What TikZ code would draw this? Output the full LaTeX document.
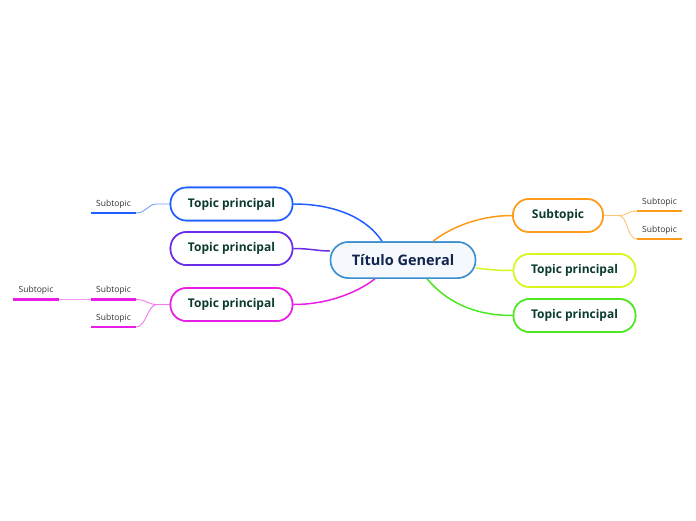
\documentclass[tikz,border=0pt]{standalone}
\usepackage{fontspec}
\setmainfont{Open Sans}
\definecolor{cblue}{HTML}{1F5EFF}
\definecolor{cpurple}{HTML}{6B2BEB}
\definecolor{cmag}{HTML}{E91EE6}
\definecolor{corange}{HTML}{FF9A1A}
\definecolor{cyellow}{HTML}{D8F51E}
\definecolor{cgreen}{HTML}{4AE81E}
\definecolor{ccenter}{HTML}{3A8FD0}
\definecolor{ccfill}{HTML}{F5F9FD}
\definecolor{ttopic}{HTML}{0B3B30}
\definecolor{tcenter}{HTML}{12254F}
\definecolor{tsub}{HTML}{333333}
\begin{document}
\begin{tikzpicture}[x=1pt,y=-1pt,
  topic/.style={draw, line width=1.6pt, fill=white, rounded corners=16pt,
    minimum width=122pt, minimum height=33pt, inner sep=0pt,
    font=\fontsize{12}{14}\selectfont\bfseries, text=ttopic},
  central/.style={draw=ccenter, line width=1.5pt, fill=ccfill, rounded corners=18pt,
    minimum width=145pt, minimum height=36pt, inner sep=0pt,
    font=\fontsize{14.5}{17}\selectfont\bfseries, text=tcenter},
  sub/.style={anchor=south, minimum width=45pt, minimum height=18pt, inner sep=0pt,
    font=\fontsize{8.5}{10}\selectfont, text=tsub},
  ul/.style={line width=2.4pt},
  conn/.style={line width=1.5pt},
  subconn/.style={line width=0.9pt}]
\useasboundingbox (0,0) rectangle (696,520);

% nodes (positions)
\node[central] (c) at (403,260) {Título General};
\node[topic, draw=cblue] (t1) at (231.5,204) {Topic principal};
\node[topic, draw=cpurple] (t2) at (231.5,248.5) {Topic principal};
\node[topic, draw=cmag] (t3) at (231.5,304.5) {Topic principal};
\node[topic, draw=corange, minimum width=90pt] (r1) at (558,215.5) {Subtopic};
\node[topic, draw=cyellow] (r2) at (574.5,270.5) {Topic principal};
\node[topic, draw=cgreen] (r3) at (574.5,315.5) {Topic principal};

\node[sub] (s1) at (113.5,213) {Subtopic};
\node[sub] (s2) at (113.5,299.5) {Subtopic};
\node[sub] (s3) at (113.5,327) {Subtopic};
\node[sub] (s4) at (36,299.5) {Subtopic};
\node[sub] (o1) at (659.5,211) {Subtopic};
\node[sub] (o2) at (659.5,239) {Subtopic};

% attachment coordinates on the central node
\coordinate (cb) at ([xshift=-21pt]c.north);
\coordinate (co) at ([xshift=30pt]c.north);
\coordinate (cm) at ([xshift=-28pt]c.south);
\coordinate (cg) at ([xshift=24pt]c.south);
\coordinate (cp) at ([yshift=9pt]c.west);
\coordinate (cy) at ([yshift=-8pt]c.east);

% main connectors
\draw[conn, cblue] (t1.east) .. controls +(47,0) and +(-13,-20) .. (cb);
\draw[conn, cpurple] (t2.east) .. controls +(17,0) and +(-12,0) .. (cp);
\draw[conn, cmag] (t3.east) .. controls +(37,0) and +(-15,12) .. (cm);
\draw[conn, corange] (co) .. controls +(22,-17) and +(-28,0) .. (r1.west);
\draw[conn, cyellow] (cy) .. controls +(15,2) and +(-13,0) .. (r2.west);
\draw[conn, cgreen] (cg) .. controls +(23,27) and +(-33,0) .. (r3.west);

% sub connectors
\coordinate (j1) at ([xshift=-13pt]t1.west);
\coordinate (j3) at ([xshift=-13pt]t3.west);
\coordinate (jo) at ([xshift=15pt]r1.east);
\draw[subconn, cblue!60] (t1.west) -- (j1) .. controls +(-9,0) and +(10,0) .. (s1.south east);
\draw[subconn, cmag!60] (t3.west) -- (j3) .. controls +(-9,0) and +(10,0) .. (s2.south east);
\draw[subconn, cmag!60] (j3) .. controls +(-9,0) and +(10,0) .. (s3.south east);
\draw[subconn, cmag!45] (s2.south west) -- (s4.south east);
\draw[subconn, corange!60] (r1.east) -- (jo) .. controls +(9,0) and +(-10,0) .. (o1.south west);
\draw[subconn, corange!60] (jo) .. controls +(9,0) and +(-10,0) .. (o2.south west);

% underlines
\draw[ul, cblue] (s1.south west) -- (s1.south east);
\draw[ul, cmag] (s2.south west) -- (s2.south east);
\draw[ul, cmag] (s3.south west) -- (s3.south east);
\draw[ul, cmag] (s4.south west) -- (s4.south east);
\draw[ul, corange] (o1.south west) -- (o1.south east);
\draw[ul, corange] (o2.south west) -- (o2.south east);

% redraw nodes on top of connectors
\node[central] at (c) {Título General};
\node[topic, draw=cblue] at (t1) {Topic principal};
\node[topic, draw=cpurple] at (t2) {Topic principal};
\node[topic, draw=cmag] at (t3) {Topic principal};
\node[topic, draw=corange, minimum width=90pt] at (r1) {Subtopic};
\node[topic, draw=cyellow] at (r2) {Topic principal};
\node[topic, draw=cgreen] at (r3) {Topic principal};
\end{tikzpicture}
\end{document}
